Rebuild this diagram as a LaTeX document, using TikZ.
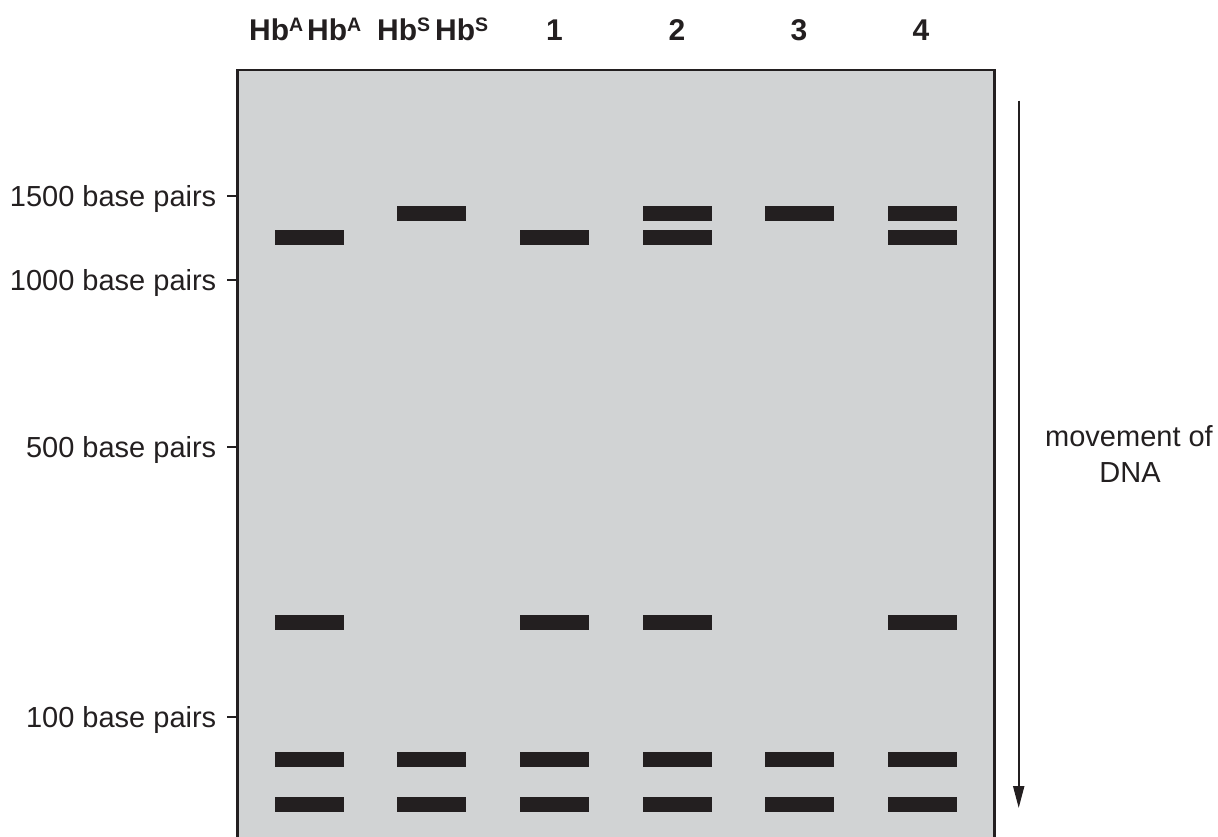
\documentclass[tikz,border=0pt]{standalone}
\usepackage{fontspec}
\setmainfont{Liberation Sans}
\usetikzlibrary{arrows.meta}
\definecolor{gelgray}{HTML}{D1D3D4}
\definecolor{ink}{HTML}{231F20}
\newcommand{\supl}[1]{\raisebox{8.2pt}{\fontsize{19.5}{20}\selectfont #1}}
\begin{document}
\begin{tikzpicture}[x=1pt,y=-1pt,
  band/.style={rectangle, fill=ink, draw=none, minimum width=69pt, minimum height=15pt, inner sep=0pt},
  lbl/.style={font=\fontsize{29}{34}\selectfont, text=ink, inner sep=0pt},
  hdr/.style={font=\fontsize{30}{34}\selectfont\bfseries, text=ink, inner sep=0pt},
  tickline/.style={draw=ink, line width=2pt},
  gelborder/.style={draw=ink, line width=2.7pt}]
\useasboundingbox (0,0) rectangle (1218,836);

% gel
\fill[gelgray] (237.5,70) rectangle (994.5,845);
\coordinate (gBL) at (237.5,845);
\coordinate (gTL) at (237.5,70);
\coordinate (gTR) at (994.5,70);
\coordinate (gBR) at (994.5,845);
\draw[gelborder, line join=miter] (gBL) -- (gTL) -- (gTR) -- (gBR);

% headers
\node[hdr, anchor=base west] (hA1) at (249,40) {Hb\supl{A}};
\node[hdr, anchor=base west] (hA2) at (307,40) {Hb\supl{A}};
\node[hdr, anchor=base west] (hS1) at (377,40) {Hb\supl{S}};
\node[hdr, anchor=base west] (hS2) at (435,40) {Hb\supl{S}};
\node[hdr, anchor=base] (n1) at (554.5,40) {1};
\node[hdr, anchor=base] (n2) at (677,40) {2};
\node[hdr, anchor=base] (n3) at (799,40) {3};
\node[hdr, anchor=base] (n4) at (921,40) {4};

% size markers
\foreach \nm/\yy/\tx in {m1500/196/1500, m1000/280/1000, m500/447/500, m100/717/100}{
  \node[lbl, anchor=base east] (\nm) at (216.5,\yy+10) {\tx\ base pairs};
  \coordinate (\nm a) at (227,\yy);
  \coordinate (\nm b) at (237.5,\yy);
  \draw[tickline] (\nm a) -- (\nm b);
}

% bands: lane x, list of y
\foreach \ln/\xx/\ys in {
   A/309.5/{237.5,622.5,759.5,804.5},
   B/431.5/{213.5,759.5,804.5},
   C/554.5/{237.5,622.5,759.5,804.5},
   D/677/{213.5,237.5,622.5,759.5,804.5},
   E/799.5/{213.5,759.5,804.5},
   F/922.5/{213.5,237.5,622.5,759.5,804.5}}{
  \foreach \yy [count=\k] in \ys {
    \node[band] (band\ln\k) at (\xx,\yy) {};
  }
}

% movement arrow
\coordinate (arrTop) at (1018.7,100.5);
\coordinate (arrTip) at (1018.7,808);
\draw[draw=ink, line width=2pt, -{Triangle[width=11pt,length=22pt]}] (arrTop) -- (arrTip);
\node[lbl, anchor=base] (mv1) at (1129,446) {movement of};
\node[lbl, anchor=base] (mv2) at (1130,482) {DNA};
\end{tikzpicture}
\end{document}
